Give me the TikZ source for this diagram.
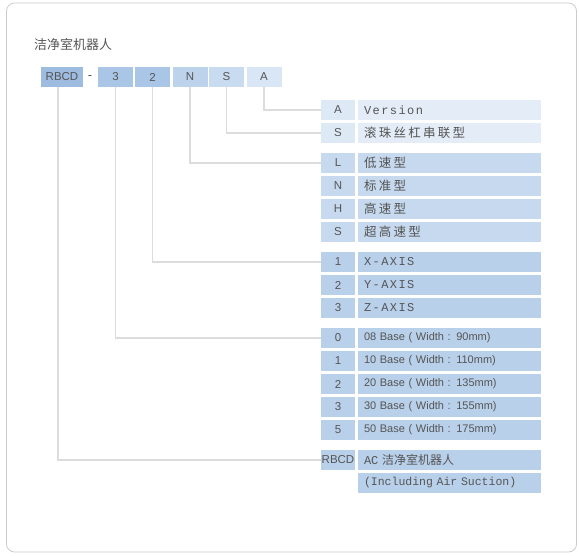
\documentclass[tikz,border=0pt]{standalone}
\usepackage{fontspec}
\setmainfont{Liberation Sans}
\newfontfamily\cjk{Noto Sans CJK SC}
\newfontfamily\cjksp[LetterSpace=18]{Noto Sans CJK SC}
\newfontfamily\monosp[LetterSpace=12]{Liberation Mono}
\newfontfamily\mono{Liberation Mono}
\definecolor{txt}{HTML}{555555}
\definecolor{frame}{HTML}{CCCCCC}
\definecolor{wire}{HTML}{DCDCDC}
\definecolor{tA}{HTML}{D8E6F5}
\definecolor{tS}{HTML}{C9DBF0}
\definecolor{tN}{HTML}{BDD3EC}
\definecolor{tM}{HTML}{AAC6E6}
\definecolor{tR}{HTML}{9EBCDF}
\definecolor{gA}{HTML}{DDE9F5}
\definecolor{gB}{HTML}{C6D9EE}
\definecolor{gC}{HTML}{B9D0EA}
\tikzset{
  topbox/.style={draw=none,inner sep=0pt,minimum width=35,minimum height=20,text=txt,font=\fontsize{11.5}{13}\selectfont},
  codebox/.style={draw=none,inner sep=0pt,minimum width=34,minimum height=20,text=txt,font=\fontsize{11.5}{13}\selectfont},
  descbox/.style={draw=none,inner sep=0pt,inner xsep=6,minimum width=183,minimum height=20,text=txt,text width=171,align=left,font=\fontsize{11}{13}\selectfont},
  wireline/.style={draw=wire,line width=1.6pt},
}
\newcommand{\specrow}[6]{%
  \node[codebox,fill=#5] (c#1) at (338,#2+10) {#3};
  \node[descbox,fill=#6] (d#1) at (449.5,#2+10) {#4};
}
\begin{document}
\begin{tikzpicture}[x=1pt,y=-1pt]
\useasboundingbox (0,0) rectangle (579,555);
\draw[frame,line width=0.8pt,rounded corners=8] (6.5,3) rectangle (576.5,552);
\node[anchor=west,text=txt,font=\cjk\fontsize{13}{15}\selectfont,inner sep=0pt] (title) at (34,44) {洁净室机器人};
% top code
\node[topbox,fill=tR,minimum width=42] (tRBCD) at (62,77) {RBCD};
\node[text=txt,inner sep=0pt,font=\fontsize{13}{15}\selectfont] (dash) at (90,77.5) {-};
\node[topbox,fill=tM] (t3) at (115.5,77) {3};
\node[topbox,fill=tM] (t2) at (152.5,77) {2};
\node[topbox,fill=tN] (tN) at (190,77) {N};
\node[topbox,fill=tS] (tS) at (226.5,77) {S};
\node[topbox,fill=tA] (tA) at (264,77) {A};
% rows
\specrow{A}{100}{A}{{\monosp\fontsize{12}{13}\selectfont Version}}{gA}{gA!80!white}
\specrow{S}{123}{S}{{\cjksp\fontsize{12.5}{13}\selectfont 滚珠丝杠串联型}}{gA}{gA!80!white}
\specrow{L}{153}{L}{{\cjksp\fontsize{12.5}{13}\selectfont 低速型}}{gB}{gB}
\specrow{N}{176}{N}{{\cjksp\fontsize{12.5}{13}\selectfont 标准型}}{gB}{gB}
\specrow{H}{199}{H}{{\cjksp\fontsize{12.5}{13}\selectfont 高速型}}{gB}{gB}
\specrow{S2}{222}{S}{{\cjksp\fontsize{12.5}{13}\selectfont 超高速型}}{gB}{gB}
\specrow{X1}{252}{1}{{\monosp\fontsize{12}{13}\selectfont X-AXIS}}{gC}{gC}
\specrow{X2}{275}{2}{{\monosp\fontsize{12}{13}\selectfont Y-AXIS}}{gC}{gC}
\specrow{X3}{298}{3}{{\monosp\fontsize{12}{13}\selectfont Z-AXIS}}{gC}{gC}
\specrow{B0}{328}{0}{08 Base ( Width : 90mm)}{gC}{gC}
\specrow{B1}{351}{1}{10 Base ( Width : 110mm)}{gC}{gC}
\specrow{B2}{374}{2}{20 Base ( Width : 135mm)}{gC}{gC}
\specrow{B3}{397}{3}{30 Base ( Width : 155mm)}{gC}{gC}
\specrow{B5}{420}{5}{50 Base ( Width : 175mm)}{gC}{gC}
\node[codebox,fill=gC] (cR) at (338,460) {RBCD};
\node[descbox,fill=gC] (dR) at (449.5,460) {{\mono\fontsize{12}{13}\selectfont AC} {\cjk\fontsize{12}{13}\selectfont 洁净室机器人}};
\node[descbox,fill=gC] (dR2) at (449.5,483) {{\mono\fontsize{11.5}{13}\selectfont (Including Air Suction)}};
% wires
\draw[wireline] (tA.south) |- (cA.west);
\draw[wireline] (tS.south) |- (cS.west);
\draw[wireline] (tN.south) |- (cL.west);
\draw[wireline] (t2.south) |- (cX1.west);
\draw[wireline] (t3.south) |- (cB0.west);
\draw[wireline] ([xshift=-4]tRBCD.south) |- (cR.west);
\end{tikzpicture}
\end{document}
